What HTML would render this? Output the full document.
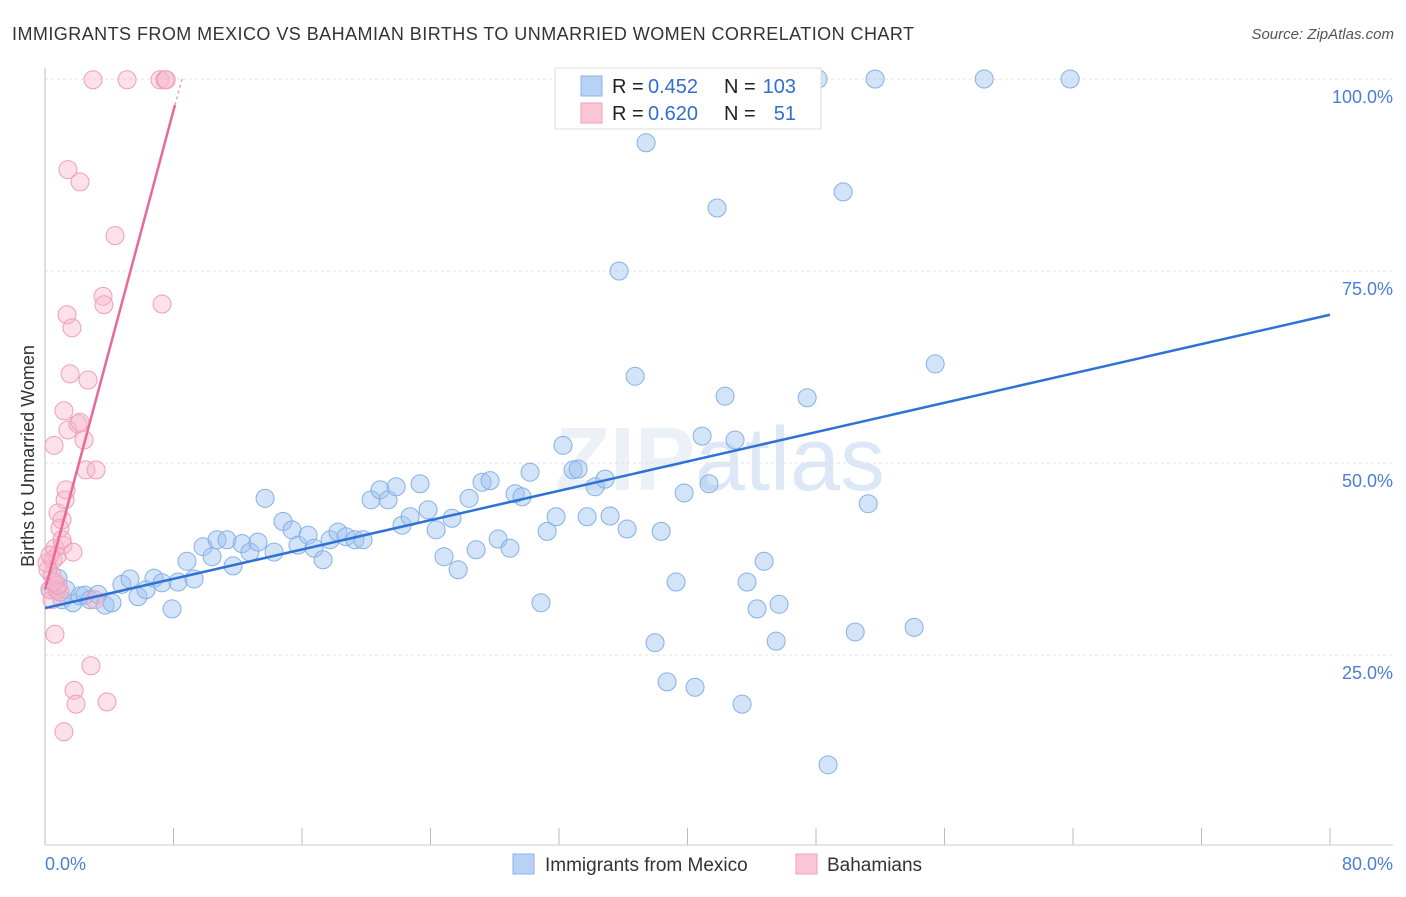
<!DOCTYPE html>
<html><head><meta charset="utf-8"><style>
body{margin:0;background:#fff;font-family:"Liberation Sans",sans-serif}
svg text{font-family:"Liberation Sans",sans-serif}
</style></head><body>
<svg id="chart" width="1406" height="892" xmlns="http://www.w3.org/2000/svg">
<text x="12" y="40" font-size="18" fill="#333" textLength="902" lengthAdjust="spacing">IMMIGRANTS FROM MEXICO VS BAHAMIAN BIRTHS TO UNMARRIED WOMEN CORRELATION CHART</text>
<text x="1394" y="39" font-size="15" fill="#555" font-style="italic" text-anchor="end">Source: ZipAtlas.com</text>
<text transform="translate(34,456) rotate(-90)" font-size="18" fill="#333" text-anchor="middle">Births to Unmarried Women</text>
<text x="720" y="490" font-size="90" fill="#ecf1f8" text-anchor="middle" font-weight="bold">ZIP<tspan fill="#dde8f6" font-weight="normal">atlas</tspan></text>
<g id="grid"></g><g id="ticks"></g>
<line x1="45" y1="68" x2="45" y2="845" stroke="#bbb"/>
<line x1="45" y1="845" x2="1393" y2="845" stroke="#ccc"/>
<g id="pts"></g><g id="trend"></g>
<text x="45" y="870" font-size="18" fill="#4a7fd4">0.0%</text>
<text x="1393" y="870" font-size="18" fill="#4a7fd4" text-anchor="end">80.0%</text>
<g>
<rect x="555" y="68" width="266" height="61" fill="#fff" stroke="#ddd"/>
<rect x="581" y="76" width="21" height="20" fill="#b8d2f5" stroke="#8ab4e8"/>
<rect x="581" y="103" width="21" height="20" fill="#fcc6d6" stroke="#f0a0b8"/>
<text x="612" y="93" font-size="20" fill="#222">R =</text>
<text x="648" y="93" font-size="20" fill="#2f6fd0">0.452</text>
<text x="724" y="93" font-size="20" fill="#222">N =</text>
<text x="796" y="93" font-size="20" fill="#2f6fd0" text-anchor="end">103</text>
<text x="612" y="120" font-size="20" fill="#222">R =</text>
<text x="648" y="120" font-size="20" fill="#2f6fd0">0.620</text>
<text x="724" y="120" font-size="20" fill="#222">N =</text>
<text x="796" y="120" font-size="20" fill="#2f6fd0" text-anchor="end">51</text>
</g>
<g>
<rect x="513" y="854" width="21" height="20" fill="#b8d2f5" stroke="#8ab4e8"/>
<text x="545" y="871" font-size="19" fill="#333">Immigrants from Mexico</text>
<rect x="796" y="854" width="21" height="20" fill="#fcc6d6" stroke="#f0a0b8"/>
<text x="827" y="871" font-size="19" fill="#333">Bahamians</text>
</g>
</svg>
<script>
const yTicks=[25,50,75,100];
const yTickLabels=["25.0%","50.0%","75.0%","100.0%"];
const xTicks=[0,8,16,24,32,40,48,56,64,72,80];
const blueX=[0.31,0.81,1.06,1.31,1.74,2.18,2.49,2.8,3.3,3.74,4.17,4.79,5.29,5.79,6.29,6.79,7.29,7.91,8.28,8.84,9.28,9.84,10.4,10.71,11.33,11.71,12.27,12.76,13.26,13.7,14.26,14.82,15.38,15.75,16.38,16.75,17.31,17.75,18.24,18.74,19.3,19.8,20.3,20.86,21.36,21.86,22.23,22.73,23.35,23.85,24.35,24.84,25.34,25.72,26.4,26.84,27.21,27.71,28.21,28.95,29.27,29.7,30.2,30.88,31.26,31.82,32.25,32.88,33.19,33.75,34.25,34.87,35.18,35.74,36.24,36.74,37.42,37.98,38.36,38.73,39.29,39.79,40.47,40.91,41.34,41.84,42.34,42.96,43.4,43.71,44.33,44.77,45.52,45.7,47.45,48.13,48.75,49.69,50.44,51.25,51.68,54.11,55.42,58.47,63.82];
const blueY=[33.5,35.0,32.2,33.5,31.8,32.7,32.8,32.2,32.9,31.5,31.8,34.2,34.9,32.6,33.5,35.0,34.4,31.0,34.5,37.2,34.9,39.1,37.8,40.0,40.0,36.6,39.5,38.4,39.7,45.4,38.4,42.4,41.3,39.3,40.6,38.9,37.4,40.0,41.0,40.4,40.0,40.0,45.2,46.5,45.2,46.9,41.9,43.0,47.3,43.9,41.3,37.8,42.8,36.1,45.4,38.7,47.5,47.7,40.1,38.9,46.0,45.6,48.8,31.8,41.1,43.0,52.3,49.1,49.2,43.0,46.9,47.9,43.1,75.0,41.4,61.3,91.7,26.6,41.1,21.5,34.5,46.1,20.8,53.5,47.3,83.2,58.7,53.0,18.6,34.5,31.0,37.2,26.8,31.6,58.5,100,10.7,85.3,28.0,44.7,100,28.6,62.9,100,100];
const pinkX=[0.31,0.44,0.56,0.62,0.44,0.5,0.62,0.75,0.81,0.93,1.06,1.12,1.06,1.25,1.18,1.31,1.43,1.37,1.56,1.68,1.74,1.81,1.93,2.05,2.18,1.43,2.18,2.43,2.55,2.68,2.86,2.99,3.18,3.61,3.67,3.86,4.36,5.11,7.16,7.29,7.47,7.55,1.18,0.19,0.12,0.75,0.93,3.11,0.31,0.81,0.56];
const pinkY=[33.5,32.2,52.3,27.7,35.4,37.4,38.9,37.9,43.5,41.5,42.6,39.3,40.0,45.2,56.8,46.5,54.3,69.3,61.6,67.6,38.4,20.4,18.6,55.1,55.3,88.2,86.6,53.0,49.1,60.8,23.6,99.9,49.1,71.7,70.6,18.9,79.6,99.9,99.9,70.7,99.9,99.9,15.0,36.1,37.0,33.5,33.2,32.2,38.0,34.1,34.5];
const blueTrend=[[0,31.1],[80,69.3]];
const pinkTrend=[[0,33.5],[8.09,96.6]];
const pinkTrendDash=[[8.09,96.6],[8.53,100]];
const X0=45,X1=1330,Y0=847,Y100=79;
const sx=v=>X0+(X1-X0)*v/80, sy=v=>Y0+(Y100-Y0)*v/100;
const NS="http://www.w3.org/2000/svg";
function mk(tag,parent,attrs){const e=document.createElementNS(NS,tag);for(const k in attrs)e.setAttribute(k,attrs[k]);document.getElementById(parent).appendChild(e);return e;}
yTicks.forEach((t,i)=>{
 const l=mk('line','grid',{x1:45,x2:1393,y1:sy(t),y2:sy(t),stroke:'#e2e2e2','stroke-dasharray':'3,3'});
 
 
 const tx=mk('text','grid',{x:1393,y:sy(t)+24,'font-size':18,fill:'#4a7fd4','text-anchor':'end'});
 tx.textContent=yTickLabels[i];
 
 
});
xTicks.forEach(t=>{
 const l=mk('line','ticks',{x1:sx(t),x2:sx(t),y1:828,y2:845,stroke:'#bbb'});
 
 
});
blueX.forEach((x,i)=>{
 const c=mk('circle','pts',{cx:sx(x),cy:sy(blueY[i]),r:9,fill:'rgba(160,196,240,0.45)',stroke:'#85b0e6','stroke-width':1});
 
 
});
pinkX.forEach((x,i)=>{
 const c=mk('circle','pts',{cx:sx(x),cy:sy(pinkY[i]),r:9,fill:'rgba(248,180,200,0.4)',stroke:'#ef9fb8','stroke-width':1});
 
 
});
const bl=mk('line','trend',{x1:sx(blueTrend[0][0]),y1:sy(blueTrend[0][1]),x2:sx(blueTrend[1][0]),y2:sy(blueTrend[1][1]),stroke:'#2f72d6','stroke-width':2.5});


const pl=mk('line','trend',{x1:sx(pinkTrend[0][0]),y1:sy(pinkTrend[0][1]),x2:sx(pinkTrend[1][0]),y2:sy(pinkTrend[1][1]),stroke:'#e8689a','stroke-width':2.5});


const pd=mk('line','trend',{x1:sx(pinkTrendDash[0][0]),y1:sy(pinkTrendDash[0][1]),x2:sx(pinkTrendDash[1][0]),y2:sy(pinkTrendDash[1][1]),stroke:'#f0a0bc','stroke-width':1.5,'stroke-dasharray':'3,3'});


</script>
</body></html>
